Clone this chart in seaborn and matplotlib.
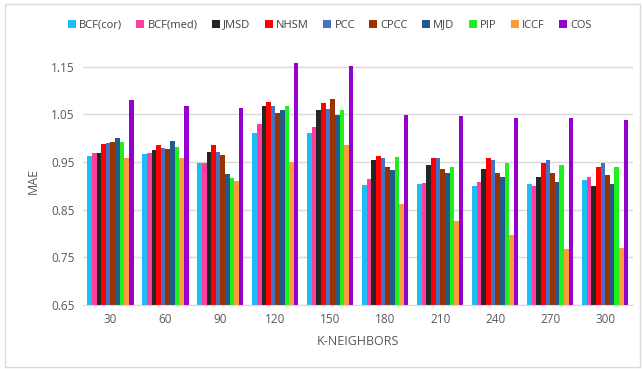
import pandas as pd
import numpy as np
import matplotlib
matplotlib.use('Agg')
import matplotlib.pyplot as plt
import seaborn as sns
from matplotlib.patches import Rectangle

k_neighbors = ['30', '60', '90', '120', '150', '180', '210', '240', '270', '300']
methods = ['BCF(cor)', 'BCF(med)', 'JMSD', 'NHSM', 'PCC', 'CPCC', 'MJD', 'PIP', 'ICCF', 'COS']

bcf_cor = [0.962, 0.966, 0.948, 1.010, 1.012, 0.902, 0.905, 0.900, 0.904, 0.912]
bcf_med = [0.970, 0.970, 0.948, 1.029, 1.024, 0.914, 0.907, 0.908, 0.899, 0.919]
jmsd = [0.970, 0.975, 0.972, 1.068, 1.059, 0.954, 0.943, 0.935, 0.919, 0.899]
nhsm = [0.988, 0.986, 0.986, 1.077, 1.073, 0.963, 0.959, 0.959, 0.948, 0.939]
pcc = [0.990, 0.979, 0.972, 1.068, 1.062, 0.959, 0.958, 0.954, 0.954, 0.948]
cpcc = [0.993, 0.977, 0.965, 1.053, 1.082, 0.940, 0.935, 0.928, 0.928, 0.924]
mjd = [1.001, 0.994, 0.926, 1.059, 1.048, 0.934, 0.928, 0.919, 0.908, 0.904]
pip = [0.992, 0.981, 0.916, 1.067, 1.059, 0.961, 0.939, 0.948, 0.943, 0.939]
iccf = [0.958, 0.958, 0.911, 0.951, 0.985, 0.863, 0.826, 0.798, 0.767, 0.769]
cos = [1.080, 1.068, 1.063, 1.158, 1.151, 1.049, 1.046, 1.042, 1.042, 1.038]

colors = ['#1CBDF2', '#FF3D9E', '#262626', '#FF0000', '#4472C4',
          '#993300', '#235A8C', '#1EF01E', '#FF9A3C', '#9400CC']

series = [bcf_cor, bcf_med, jmsd, nhsm, pcc, cpcc, mjd, pip, iccf, cos]
rows = []
for m, vals in zip(methods, series):
    for k, v in zip(k_neighbors, vals):
        rows.append({'K': k, 'method': m, 'MAE': v})
df = pd.DataFrame(rows)

sns.set_style('white')
plt.rcParams['font.family'] = ['Open Sans', 'DejaVu Sans']

fig = plt.figure(figsize=(6.43, 3.69), dpi=100)
ax = fig.add_axes([0.129, 0.173, 0.855, 0.672])

sns.barplot(data=df, x='K', y='MAE', hue='method', order=k_neighbors,
            hue_order=methods, palette=colors, width=0.84, saturation=1,
            linewidth=0, ax=ax)

ax.set_ylim(0.65, 1.17)
ax.set_yticks([0.65, 0.75, 0.85, 0.95, 1.05, 1.15])
ax.set_yticklabels(['0.65', '0.75', '0.85', '0.95', '1.05', '1.15'])
ax.grid(axis='y', color='#D9D9D9', linewidth=1)
ax.set_axisbelow(True)
for s in ['top', 'right', 'left']:
    ax.spines[s].set_visible(False)
ax.spines['bottom'].set_color('#D9D9D9')
ax.tick_params(axis='both', length=0, labelsize=8.5, labelcolor='#595959', pad=6)
ax.set_xlabel('K-NEIGHBORS', fontsize=9, color='#595959', labelpad=6)
ax.set_ylabel('MAE', fontsize=9, color='#595959', labelpad=8)

ax.legend(loc='center', bbox_to_anchor=(0.513, 0.932), bbox_transform=fig.transFigure,
          ncol=10, frameon=False, fontsize=8, handlelength=0.7, handleheight=0.7,
          handletextpad=0.3, columnspacing=1.3, labelcolor='#404040')

fig.patches.append(Rectangle((0.007, 0.006), 0.988, 0.983, transform=fig.transFigure,
                             fill=False, edgecolor='#D9D9D9', linewidth=1))

fig.savefig('out.png', dpi=100)
